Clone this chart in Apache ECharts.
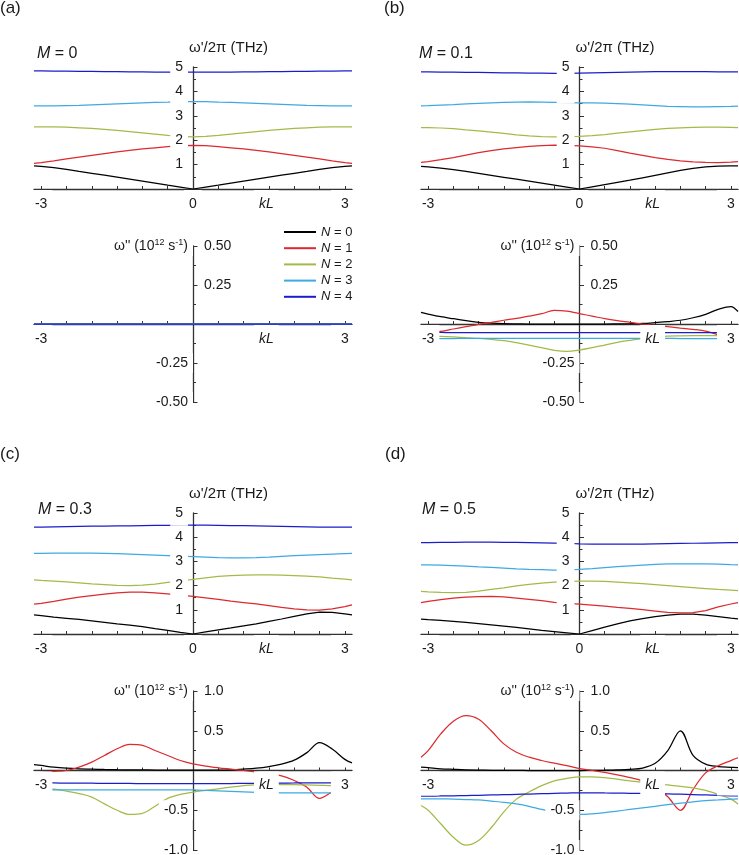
<!DOCTYPE html>
<html><head><meta charset="utf-8">
<script src="https://cdn.jsdelivr.net/npm/echarts@6/dist/echarts.min.js"></script>
<style>html,body{margin:0;padding:0;background:#fff}#c{width:739px;height:855px}</style>
</head><body><div id="c"></div>
<script>
const PI = Math.PI;
// sampling positions along kL
const kL = [-PI,-3,-2.75,-2.5,-2.25,-2,-1.75,-1.5,-1.25,-1,-0.75,-0.5,-0.25,0,0.25,0.5,0.75,1,1.25,1.5,1.75,2,2.25,2.5,2.75,3,PI];
const bandNames = ['N = 0','N = 1','N = 2','N = 3','N = 4'];
const bandColors = ['#000000','#dc2a2e','#a2bb48','#3daae2','#1c1ccc'];
const xTicks = [-3,-2.5,-2,-1.5,-1,-0.5,0,0.5,1,1.5,2,2.5,3];
const xLabelsTop = [-3,0,1.45,3];
const xLabelsBottom = [-3,1.45,3];
const yTopLabels = [1,2,3,4,5];
const yBotLeftAB = [0.5,-0.25,-0.5];
const yBotRightAB = [0.5,0.25];
const yBotLeftCD = [1,-0.5,-1];
const yBotRightCD = [1,0.5];

// (a) M = 0 : real part omega'/2pi (THz)
const a_re_N0 = [0.95,0.93,0.875,0.80,0.72,0.645,0.565,0.485,0.405,0.325,0.245,0.16,0.08,0,0.08,0.16,0.245,0.325,0.405,0.485,0.565,0.645,0.72,0.80,0.875,0.93,0.95];
const a_re_N1 = [1.05,1.08,1.15,1.23,1.31,1.38,1.45,1.52,1.58,1.64,1.69,1.74,1.78,1.79,1.78,1.74,1.69,1.64,1.58,1.52,1.45,1.38,1.31,1.23,1.15,1.08,1.05];
const a_re_N2 = [2.55,2.55,2.55,2.54,2.51,2.48,2.44,2.40,2.35,2.30,2.25,2.20,2.16,2.14,2.16,2.20,2.25,2.30,2.35,2.40,2.44,2.48,2.51,2.54,2.55,2.55,2.55];
const a_re_N3 = [3.41,3.41,3.41,3.42,3.43,3.45,3.47,3.49,3.51,3.53,3.55,3.56,3.58,3.58,3.58,3.56,3.55,3.53,3.51,3.49,3.47,3.45,3.43,3.42,3.41,3.41,3.41];
const a_re_N4 = [4.84,4.84,4.83,4.83,4.82,4.82,4.81,4.81,4.80,4.80,4.79,4.79,4.79,4.79,4.79,4.79,4.79,4.80,4.80,4.81,4.81,4.82,4.82,4.83,4.83,4.84,4.84];
// (a) imaginary part omega'' (1e12 1/s)
const a_im_N0 = [0,0,0,0,0,0,0,0,0,0,0,0,0,0,0,0,0,0,0,0,0,0,0,0,0,0,0];
const a_im_N1 = [0,0,0,0,0,0,0,0,0,0,0,0,0,0,0,0,0,0,0,0,0,0,0,0,0,0,0];
const a_im_N2 = [0,0,0,0,0,0,0,0,0,0,0,0,0,0,0,0,0,0,0,0,0,0,0,0,0,0,0];
const a_im_N3 = [0,0,0,0,0,0,0,0,0,0,0,0,0,0,0,0,0,0,0,0,0,0,0,0,0,0,0];
const a_im_N4 = [0,0,0,0,0,0,0,0,0,0,0,0,0,0,0,0,0,0,0,0,0,0,0,0,0,0,0];

// (b) M = 0.1
const b_re_N0 = [0.93,0.91,0.86,0.79,0.72,0.64,0.56,0.48,0.40,0.32,0.24,0.16,0.08,0,0.09,0.18,0.27,0.36,0.46,0.56,0.66,0.76,0.85,0.91,0.94,0.95,0.95];
const b_re_N1 = [1.09,1.12,1.20,1.29,1.39,1.49,1.57,1.64,1.70,1.75,1.78,1.80,1.79,1.77,1.73,1.67,1.57,1.47,1.38,1.29,1.21,1.15,1.11,1.09,1.08,1.10,1.12];
const b_re_N2 = [2.52,2.52,2.50,2.47,2.42,2.38,2.33,2.28,2.22,2.18,2.15,2.14,2.14,2.16,2.19,2.23,2.29,2.34,2.39,2.44,2.48,2.51,2.53,2.54,2.54,2.53,2.52];
const b_re_N3 = [3.41,3.42,3.44,3.46,3.49,3.51,3.53,3.55,3.56,3.57,3.56,3.55,3.54,3.53,3.53,3.52,3.50,3.48,3.45,3.42,3.39,3.38,3.37,3.37,3.38,3.39,3.40];
const b_re_N4 = [4.80,4.80,4.79,4.79,4.78,4.78,4.77,4.76,4.76,4.75,4.75,4.74,4.74,4.75,4.76,4.77,4.78,4.79,4.80,4.81,4.81,4.81,4.81,4.81,4.80,4.80,4.80];
const b_im_N0 = [0.075,0.064,0.047,0.034,0.021,0.011,0.005,0.002,0.001,0,0,0,0,0,0,0,0.001,0.002,0.004,0.009,0.015,0.024,0.040,0.062,0.094,0.112,0.080];
const b_im_N1 = [-0.057,-0.053,-0.047,-0.032,-0.017,-0.002,0.011,0.024,0.036,0.051,0.066,0.087,0.082,0.066,0.051,0.034,0.021,0.011,0,-0.009,-0.017,-0.026,-0.034,-0.045,-0.070,-0.090,-0.100];
const b_im_N2 = [-0.077,-0.077,-0.079,-0.083,-0.088,-0.092,-0.098,-0.107,-0.120,-0.135,-0.152,-0.169,-0.176,-0.167,-0.152,-0.135,-0.118,-0.105,-0.094,-0.085,-0.078,-0.076,-0.075,-0.075,-0.074,-0.074,-0.075];
const b_im_N3 = [-0.093,-0.093,-0.093,-0.093,-0.092,-0.092,-0.092,-0.092,-0.092,-0.092,-0.092,-0.092,-0.092,-0.092,-0.092,-0.092,-0.092,-0.092,-0.092,-0.092,-0.092,-0.093,-0.093,-0.093,-0.093,-0.093,-0.093];
const b_im_N4 = [-0.054,-0.054,-0.054,-0.055,-0.055,-0.055,-0.055,-0.055,-0.055,-0.056,-0.056,-0.056,-0.056,-0.056,-0.056,-0.056,-0.056,-0.056,-0.056,-0.056,-0.056,-0.056,-0.056,-0.056,-0.056,-0.056,-0.056];

// (c) M = 0.3
const c_re_N0 = [0.79,0.76,0.70,0.65,0.60,0.54,0.48,0.42,0.37,0.30,0.22,0.15,0.07,0,0.09,0.17,0.25,0.34,0.42,0.52,0.62,0.73,0.83,0.90,0.89,0.83,0.79];
const c_re_N1 = [1.23,1.27,1.35,1.44,1.52,1.59,1.65,1.70,1.73,1.73,1.70,1.66,1.61,1.55,1.49,1.43,1.36,1.30,1.24,1.17,1.10,1.04,1.00,0.99,1.04,1.13,1.20];
const c_re_N2 = [2.24,2.22,2.19,2.15,2.11,2.07,2.04,2.01,2.00,2.02,2.06,2.13,2.19,2.26,2.32,2.38,2.41,2.43,2.44,2.44,2.43,2.41,2.39,2.36,2.31,2.27,2.24];
const c_re_N3 = [3.33,3.33,3.34,3.34,3.34,3.34,3.33,3.32,3.30,3.28,3.26,3.24,3.22,3.20,3.18,3.16,3.15,3.15,3.16,3.18,3.21,3.24,3.26,3.28,3.30,3.32,3.33];
const c_re_N4 = [4.42,4.42,4.43,4.44,4.45,4.46,4.46,4.47,4.47,4.48,4.49,4.49,4.50,4.50,4.50,4.49,4.48,4.48,4.47,4.46,4.45,4.44,4.43,4.42,4.42,4.42,4.42];
const c_im_N0 = [0.075,0.063,0.042,0.029,0.021,0.017,0.013,0.010,0.008,0.007,0.006,0.005,0.005,0.005,0.005,0.005,0.008,0.017,0.029,0.050,0.080,0.130,0.225,0.350,0.270,0.140,0.095];
const c_im_N1 = [-0.030,-0.025,-0.012,0.000,0.042,0.105,0.189,0.273,0.328,0.316,0.252,0.189,0.126,0.084,0.055,0.034,0.017,0.000,-0.021,-0.045,-0.067,-0.126,-0.210,-0.350,-0.270,-0.200,-0.150];
const c_im_N2 = [-0.220,-0.225,-0.235,-0.260,-0.290,-0.335,-0.420,-0.500,-0.553,-0.540,-0.450,-0.350,-0.300,-0.272,-0.250,-0.230,-0.210,-0.190,-0.180,-0.177,-0.176,-0.178,-0.182,-0.186,-0.190,-0.190,-0.190];
const c_im_N3 = [-0.245,-0.245,-0.245,-0.244,-0.244,-0.244,-0.244,-0.244,-0.244,-0.244,-0.244,-0.244,-0.244,-0.245,-0.250,-0.256,-0.262,-0.268,-0.274,-0.278,-0.280,-0.281,-0.281,-0.281,-0.281,-0.281,-0.281];
const c_im_N4 = [-0.155,-0.156,-0.157,-0.158,-0.159,-0.160,-0.161,-0.162,-0.163,-0.164,-0.164,-0.165,-0.165,-0.165,-0.165,-0.165,-0.164,-0.163,-0.162,-0.160,-0.158,-0.157,-0.156,-0.155,-0.155,-0.155,-0.155];

// (d) M = 0.5
const d_re_N0 = [0.61,0.59,0.56,0.52,0.48,0.43,0.38,0.33,0.27,0.21,0.15,0.10,0.05,0,0.14,0.28,0.42,0.54,0.64,0.72,0.78,0.82,0.82,0.78,0.72,0.66,0.63];
const d_re_N1 = [1.30,1.35,1.42,1.48,1.52,1.54,1.55,1.53,1.48,1.43,1.38,1.31,1.27,1.23,1.19,1.15,1.10,1.06,1.01,0.95,0.89,0.87,0.88,0.97,1.12,1.24,1.30];
const d_re_N2 = [1.76,1.74,1.72,1.71,1.72,1.77,1.84,1.91,1.99,2.05,2.10,2.14,2.16,2.18,2.18,2.17,2.14,2.11,2.08,2.04,2.00,1.96,1.92,1.88,1.84,1.81,1.79];
const d_re_N3 = [2.86,2.86,2.85,2.83,2.80,2.77,2.75,2.72,2.69,2.67,2.66,2.64,2.65,2.67,2.70,2.74,2.78,2.82,2.85,2.88,2.90,2.90,2.90,2.90,2.89,2.87,2.86];
const d_re_N4 = [3.78,3.78,3.79,3.79,3.80,3.80,3.80,3.79,3.79,3.78,3.77,3.76,3.75,3.72,3.71,3.71,3.71,3.71,3.71,3.72,3.73,3.74,3.75,3.76,3.77,3.78,3.78];
const d_im_N0 = [0.042,0.035,0.021,0.014,0.008,0.005,0.003,0.002,0.001,0,0,0,0,0,0.002,0.004,0.008,0.015,0.030,0.090,0.250,0.500,0.190,0.080,0.050,0.040,0.035];
const d_im_N1 = [0.168,0.250,0.460,0.620,0.690,0.645,0.500,0.335,0.230,0.168,0.126,0.092,0.060,0.025,0.000,-0.025,-0.055,-0.090,-0.130,-0.200,-0.330,-0.500,-0.240,-0.030,0.060,0.125,0.160];
const d_im_N2 = [-0.44,-0.50,-0.67,-0.84,-0.94,-0.88,-0.72,-0.52,-0.36,-0.27,-0.19,-0.13,-0.10,-0.08,-0.08,-0.09,-0.11,-0.13,-0.15,-0.165,-0.18,-0.20,-0.22,-0.25,-0.30,-0.36,-0.42];
const d_im_N3 = [-0.356,-0.356,-0.357,-0.360,-0.365,-0.370,-0.385,-0.400,-0.420,-0.450,-0.490,-0.520,-0.545,-0.553,-0.545,-0.530,-0.510,-0.490,-0.470,-0.450,-0.430,-0.410,-0.395,-0.380,-0.370,-0.360,-0.356];
const d_im_N4 = [-0.323,-0.322,-0.320,-0.318,-0.315,-0.312,-0.308,-0.304,-0.300,-0.296,-0.292,-0.288,-0.284,-0.280,-0.281,-0.283,-0.285,-0.287,-0.289,-0.291,-0.294,-0.298,-0.303,-0.308,-0.313,-0.318,-0.320];

const FONT = '"Liberation Sans", Arial, Helvetica, sans-serif';
const TXT = '#1a1a1a';
const AX = '#333333';
const topName = "ω'/2π (THz)";

const panels = [
  {letter:'(a)', M:'0',   left:34,  width:318, topT:67,  hT:122, topB:246, hB:156, yB:[-0.5,0.5], yBint:0.25, dec:2, yL:yBotLeftAB, yR:yBotRightAB, lp:[0,0],   mp:[37,46],
   re:[a_re_N0,a_re_N1,a_re_N2,a_re_N3,a_re_N4], im:[a_im_N0,a_im_N1,a_im_N2,a_im_N3,a_im_N4]},
  {letter:'(b)', M:'0.1', left:421, width:317, topT:67,  hT:122, topB:246, hB:156, yB:[-0.5,0.5], yBint:0.25, dec:2, yL:yBotLeftAB, yR:yBotRightAB, lp:[384,0], mp:[419,46],
   re:[b_re_N0,b_re_N1,b_re_N2,b_re_N3,b_re_N4], im:[b_im_N0,b_im_N1,b_im_N2,b_im_N3,b_im_N4]},
  {letter:'(c)', M:'0.3', left:34,  width:318, topT:513, hT:121, topB:691, hB:159, yB:[-1,1], yBint:0.5, dec:1, yL:yBotLeftCD, yR:yBotRightCD, lp:[0,446], mp:[38,502],
   re:[c_re_N0,c_re_N1,c_re_N2,c_re_N3,c_re_N4], im:[c_im_N0,c_im_N1,c_im_N2,c_im_N3,c_im_N4]},
  {letter:'(d)', M:'0.5', left:421, width:317, topT:513, hT:121, topB:691, hB:159, yB:[-1,1], yBint:0.5, dec:1, yL:yBotLeftCD, yR:yBotRightCD, lp:[385,446], mp:[422,502],
   re:[d_re_N0,d_re_N1,d_re_N2,d_re_N3,d_re_N4], im:[d_im_N0,d_im_N1,d_im_N2,d_im_N3,d_im_N4]}
];

// measure the top axis name so that it starts just left of the axis
const mctx = document.createElement('canvas').getContext('2d');
mctx.font = '15px ' + FONT;
const nameW = mctx.measureText(topName).width;
const namePadL = Math.max(0, nameW - 8);

const grids = [], xAxes = [], yAxes = [], series = [], titles = [];
function addGrid(left, top, width, height){
  grids.push({left, top, width, height, containLabel:false, outerBoundsMode:'none'});
  return grids.length - 1;
}
function fmtX(v){
  if (Math.abs(v - 1.45) < 1e-9) return '{i|kL}';
  if (v === 3) return '{w|3}';
  return String(v);
}
function xLine(g, yIdx){
  return {type:'value', gridIndex:g, min:-PI, max:PI, position:'bottom', z:1,
    axisLine:{show:true, onZero:true, onZeroAxisIndex:yIdx, lineStyle:{color:AX, width:1.3}},
    axisTick:{show:true, inside:true, length:3, customValues:xTicks, lineStyle:{color:AX, width:1}},
    axisLabel:{show:false}, splitLine:{show:false}};
}
// label-only x axis; it sits on the bottom edge of its grid, which is placed at y = 0
function xLab(g, vals){
  return {type:'value', gridIndex:g, min:-PI, max:PI, position:'bottom', z:5,
    axisLine:{show:false, onZero:false}, axisTick:{show:false}, splitLine:{show:false},
    axisLabel:{show:true, customValues:vals, margin:1, fontSize:14, lineHeight:16, color:TXT, fontFamily:FONT,
      backgroundColor:'#fff', padding:[6,5,2,5], formatter:fmtX,
      rich:{i:{fontStyle:'italic', fontSize:14, lineHeight:16, fontFamily:FONT, color:TXT},
            w:{padding:[0,5,0,5], fontSize:14, lineHeight:16, fontFamily:FONT, color:TXT}}}};
}
function yLine(g, xIdx, min, max, interval){
  return {type:'value', gridIndex:g, min, max, interval, position:'left', z:1,
    axisLine:{show:true, onZero:true, onZeroAxisIndex:xIdx, lineStyle:{color:AX, width:1.3}},
    axisTick:{show:true, inside:true, length:4.5, lineStyle:{color:AX, width:1}},
    minorTick:{show:true, splitNumber:2, length:3, lineStyle:{color:AX, width:1}},
    axisLabel:{show:false}, splitLine:{show:false}, minorSplitLine:{show:false}};
}
function dummyX(g){ return {type:'value', gridIndex:g, min:0, max:1, show:false, axisLine:{onZero:false}}; }
function dummyY(g){ return {type:'value', gridIndex:g, min:0, max:1, show:false, axisLine:{onZero:false}}; }

panels.forEach(p => {
  const zeroX = p.left + p.width / 2;   // kL = 0 sits in the middle of the grid
  // ---- top plot (real part)
  const gT = addGrid(p.left, p.topT, p.width, p.hT);
  const xT = xAxes.length, yT = yAxes.length;
  xAxes.push(xLine(gT, yT));
  xAxes.push(xLab(gT, xLabelsTop));          // grid bottom is y = 0 here
  yAxes.push(yLine(gT, xT, 0, 5, 1));
  // label grid whose left edge is the kL = 0 line
  const gTY = addGrid(zeroX, p.topT, p.width / 2, p.hT);
  xAxes.push(dummyX(gTY));
  yAxes.push({type:'value', gridIndex:gTY, min:0, max:5, position:'left', z:5,
    name:topName, nameLocation:'end', nameGap:5,
    nameTextStyle:{fontSize:15, color:TXT, fontFamily:FONT, align:'center', padding:[0,0,0,namePadL]},
    axisLine:{show:false, onZero:false}, axisTick:{show:false}, splitLine:{show:false},
    axisLabel:{show:true, customValues:yTopLabels, margin:5, fontSize:14, lineHeight:24, color:TXT, fontFamily:FONT,
      backgroundColor:'#fff', padding:[0,5,0,5]}});
  p.re.forEach((arr, n) => series.push(mk(n, arr, xT, yT, false)));

  // ---- bottom plot (imaginary part)
  const gB = addGrid(p.left, p.topB, p.width, p.hB);
  const xB = xAxes.length, yB = yAxes.length;
  xAxes.push(xLine(gB, yB));
  yAxes.push(yLine(gB, xB, p.yB[0], p.yB[1], p.yBint));
  // x labels: grid whose bottom edge is the value 0 line
  const gBX = addGrid(p.left, p.topB, p.width, p.hB / 2);
  xAxes.push(xLab(gBX, xLabelsBottom));
  yAxes.push(dummyY(gBX));
  // y labels: grid whose left edge is the kL = 0 line
  const gBY = addGrid(zeroX, p.topB, p.width / 2, p.hB);
  xAxes.push(dummyX(gBY));
  const top = p.yB[1], dec = p.dec;
  yAxes.push({type:'value', gridIndex:gBY, min:p.yB[0], max:p.yB[1], position:'left', z:5,
    axisLine:{show:false, onZero:false}, axisTick:{show:false}, splitLine:{show:false},
    axisLabel:{show:true, customValues:p.yL, margin:0, fontSize:14, lineHeight:16, color:TXT, fontFamily:FONT,
      backgroundColor:'#fff', padding:[2,5,2,5],
      formatter: v => v === top ? "{t|ω'' (10}{s|12}{t| s}{s|-1}{t|)}" : v.toFixed(dec),
      rich:{t:{fontSize:14, lineHeight:16, fontFamily:FONT, color:TXT},
            s:{fontSize:9, lineHeight:10, verticalAlign:'top', fontFamily:FONT, color:TXT}}}});
  yAxes.push({type:'value', gridIndex:gBY, min:p.yB[0], max:p.yB[1], position:'left', z:5,
    axisLine:{show:false, onZero:false}, axisTick:{show:false}, splitLine:{show:false},
    axisLabel:{show:true, inside:true, customValues:p.yR, margin:11, fontSize:14, color:TXT, fontFamily:FONT,
      formatter: v => v.toFixed(dec)}});
  p.im.forEach((arr, n) => series.push(mk(n, arr, xB, yB, 0.35)));

  // ---- panel letter and M label
  titles.push({text:p.letter, left:p.lp[0], top:p.lp[1], padding:0,
    textStyle:{fontSize:17, fontWeight:'normal', color:TXT, fontFamily:FONT}});
  titles.push({text:'{i|M} = ' + p.M, left:p.mp[0], top:p.mp[1], padding:0,
    textStyle:{fontSize:16, fontWeight:'normal', color:TXT, fontFamily:FONT,
      rich:{i:{fontStyle:'italic', fontSize:16, color:TXT, fontFamily:FONT}}}});
});

function mk(n, arr, xi, yi, smooth){
  return {type:'line', name:bandNames[n], xAxisIndex:xi, yAxisIndex:yi,
    data: kL.map((k, i) => [k, arr[i]]), symbol:'none', showSymbol:false, smooth,
    color:bandColors[n], itemStyle:{color:bandColors[n]},
    lineStyle:{color:bandColors[n], width:1.25}, z:2, silent:true, animation:false};
}

const option = {
  backgroundColor:'#fff',
  animation:false,
  title: titles,
  grid: grids,
  xAxis: xAxes,
  yAxis: yAxes,
  legend:{data:bandNames, orient:'vertical', left:284, top:225, icon:'rect', itemWidth:32, itemHeight:2, itemGap:2.2,
    selectedMode:false, padding:0, itemStyle:{borderWidth:0},
    formatter: n => '{i|N}' + n.slice(1),
    textStyle:{fontSize:13, lineHeight:14, color:TXT, fontFamily:FONT,
      rich:{i:{fontStyle:'italic', fontSize:13, lineHeight:14, color:TXT, fontFamily:FONT}}}},
  series: series
};
const chart = echarts.init(document.getElementById('c'), null, {renderer:'canvas'});
chart.setOption(option);
</script>
</body></html>
